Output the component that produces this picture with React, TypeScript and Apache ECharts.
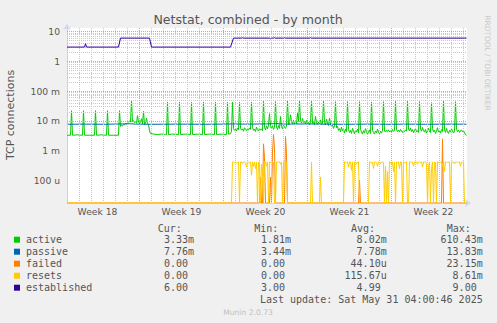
import React, { useEffect, useRef } from "react";
import * as echarts from "echarts";

// ---------- texts ----------
const TITLE = "Netstat, combined - by month";
const Y_NAME = "TCP connections";
const SIDE_TEXT = "RRDTOOL / TOBI OETIKER";
const LAST_UPDATE = "Last update: Sat May 31 04:00:46 2025";
const VERSION = "Munin 2.0.73";

// ---------- axes ----------
// x is measured in hours since Mon 28 Apr 2025 00:00 (start of week 18)
const xMinHour = 23;
const xMaxHour = 823;
const weekLabels = ["Week 18", "Week 19", "Week 20", "Week 21", "Week 22"];
const weekLabelHours = [84, 252, 420, 588, 756];
const weekLineHours = [168, 336, 504, 672];

const yMin = 1.757e-5;
const yMax = 13.1;
const yTickValues = [1e-4, 1e-3, 1e-2, 1e-1, 1, 10];
const yTickLabels = ["100 u", "1 m", "10 m", "100 m", "1", "10"];

// ---------- legend / stats ----------
const seriesNames = ["active", "passive", "failed", "resets", "established"];
const seriesColors = ["#00CC00", "#0066B3", "#FF8000", "#FFCC00", "#330099"];
const curValues = ["3.33m", "7.76m", "0.00", "0.00", "6.00"];
const minValues = ["1.81m", "3.44m", "0.00", "0.00", "3.00"];
const avgValues = ["8.02m", "7.78m", "44.10u", "115.67u", "4.99"];
const maxValues = ["610.43m", "13.83m", "23.15m", "8.61m", "9.00"];
const statHeaders = ["Cur:", "Min:", "Avg:", "Max:"];

// ---------- series data: [hour, value in milli-connections] ----------
const activeMilli: [number, number][] = [
  [23, 3.3], [30, 3.3], [32, 22], [34, 3.3], [44, 3.4], [54, 3.3], [56, 22], [58, 3.3], [68, 3.3],
  [78, 3.3], [80, 22], [82, 3.3], [92, 3.4], [102, 3.3], [104, 22], [106, 3.3], [116, 3.3], [126, 3.3],
  [128, 22], [130, 6.5], [132, 7.2], [134, 6.8], [136, 7.6], [138, 7.3], [140, 8.2], [142, 7.8], [144, 8.6],
  [146, 9.3], [148, 10], [150, 9.1], [152, 49], [154, 9.5], [156, 10.2], [158, 8.8], [160, 9.6], [162, 8.4],
  [164, 15], [166, 9.2], [168, 8.1], [170, 9.4], [172, 11.8], [174, 8.0], [176, 21], [178, 7.4], [180, 8.6],
  [182, 12.4], [184, 8.3], [186, 7.6], [188, 4.6], [190, 3.8], [196, 3.6], [204, 3.5], [212, 3.6], [220, 3.5],
  [222, 3.5], [224, 43], [226, 3.5], [234, 3.6], [246, 3.5], [248, 43], [250, 3.5], [260, 3.6], [270, 3.5],
  [272, 42], [274, 3.5], [284, 3.6], [294, 3.5], [296, 43], [298, 3.5], [308, 3.6], [318, 3.5], [320, 43],
  [322, 3.5], [332, 3.6], [342, 3.5], [344, 42], [346, 3.6], [350, 3.7], [352, 4.4], [354, 42], [356, 5.6],
  [358, 4.8], [360, 5.3], [362, 4.6], [364, 5.8], [366, 5.0], [368, 42], [370, 5.7], [372, 4.9], [374, 5.4],
  [376, 4.5], [378, 5.9], [380, 5.2], [382, 4.7], [384, 5.5], [386, 4.9], [388, 5.8], [390, 5.2], [392, 43],
  [394, 6.0], [396, 4.8], [398, 5.3], [400, 4.4], [402, 6.2], [404, 5.1], [406, 4.6], [408, 5.7], [410, 4.9],
  [412, 5.4], [414, 4.7], [416, 45], [418, 6.1], [420, 5.0], [422, 6.8], [424, 5.4], [426, 7.2], [428, 17.5],
  [430, 6.4], [432, 5.5], [434, 6.9], [436, 5.2], [438, 6.0], [440, 44], [442, 6.3], [444, 5.1], [446, 7.0],
  [448, 5.6], [450, 14], [452, 6.5], [454, 5.4], [456, 7.4], [458, 6.1], [460, 5.6], [462, 6.7], [464, 46],
  [466, 7.4], [468, 8.8], [470, 16], [472, 9.4], [474, 8.1], [476, 10.5], [478, 7.8], [480, 9.1], [482, 8.0],
  [484, 18], [486, 9.6], [488, 47], [490, 10.1], [492, 8.5], [494, 12], [496, 8.9], [498, 9.6], [500, 7.9],
  [502, 10.4], [504, 8.2], [506, 9.0], [508, 7.6], [510, 8.7], [512, 45], [514, 8.3], [516, 9.5], [518, 7.4],
  [520, 14], [522, 8.6], [524, 7.7], [526, 9.2], [528, 8.0], [530, 10.8], [532, 7.5], [534, 8.4], [536, 46],
  [538, 8.8], [540, 7.3], [542, 11.5], [544, 8.5], [546, 7.0], [548, 12.4], [550, 7.8], [552, 6.5], [554, 7.2],
  [556, 5.6], [558, 6.8], [560, 44], [562, 5.9], [564, 6.6], [566, 4.8], [568, 5.5], [570, 4.3], [572, 6.2],
  [574, 4.6], [576, 5.1], [578, 3.9], [580, 5.4], [582, 4.4], [584, 44], [586, 5.2], [588, 4.1], [590, 4.8],
  [592, 3.8], [594, 5.6], [596, 4.5], [598, 3.7], [600, 4.9], [602, 4.2], [604, 5.3], [606, 4.0], [608, 44],
  [610, 5.1], [612, 4.3], [614, 3.6], [616, 4.7], [618, 3.9], [620, 5.5], [622, 4.4], [624, 3.5], [626, 4.2],
  [628, 5.0], [630, 3.8], [632, 43], [634, 4.9], [636, 4.1], [638, 3.6], [640, 4.6], [642, 4.0], [644, 5.3],
  [646, 4.2], [648, 3.7], [650, 4.5], [652, 3.9], [654, 4.8], [656, 44], [658, 4.6], [660, 4.2], [662, 4.9],
  [664, 4.4], [666, 5.0], [668, 4.3], [670, 4.7], [672, 4.2], [674, 5.1], [676, 4.5], [678, 4.8], [680, 45],
  [682, 5.0], [684, 4.4], [686, 4.9], [688, 4.3], [690, 5.2], [692, 4.6], [694, 4.1], [696, 4.8], [698, 4.4],
  [700, 5.0], [702, 4.5], [704, 45], [706, 5.3], [708, 4.6], [710, 5.8], [712, 4.4], [714, 5.1], [716, 4.0],
  [718, 4.9], [720, 5.6], [722, 4.3], [724, 4.7], [726, 4.1], [728, 44], [730, 5.4], [732, 4.5], [734, 6.0],
  [736, 4.8], [738, 4.2], [740, 5.2], [742, 3.9], [744, 4.6], [746, 5.7], [748, 4.4], [750, 4.0], [752, 41],
  [754, 5.5], [756, 4.3], [758, 4.9], [760, 3.8], [762, 4.5], [764, 5.9], [766, 4.2], [768, 4.7], [770, 3.9],
  [772, 5.1], [774, 4.4], [776, 46], [778, 5.0], [780, 4.1], [782, 5.6], [784, 4.3], [786, 3.8], [788, 4.8],
  [790, 4.2], [792, 5.4], [794, 4.5], [796, 3.9], [798, 4.6], [800, 44], [802, 5.2], [804, 4.4], [806, 4.9],
  [808, 4.1], [810, 4.6], [812, 5.0], [814, 4.3], [816, 4.7], [818, 4.0], [820, 3.4], [822, 3.3],
];

const passiveMilli: [number, number][] = [
  [23, 7.7], [60, 7.8], [100, 7.7], [130, 7.9], [150, 8.0], [160, 7.8], [190, 7.7], [250, 7.8], [300, 7.7],
  [354, 7.9], [380, 7.8], [420, 7.9], [440, 8.1], [460, 7.8], [500, 7.9], [540, 7.8], [580, 7.7], [620, 7.8],
  [660, 7.7], [700, 7.8], [740, 7.7], [780, 7.8], [822, 7.76],
];

const failedMilli: [number, number][] = [
  [23, 0], [408, 0], [410, 0.13], [412, 0], [414, 0], [416, 1.7], [418, 0.6], [420, 0], [428, 0], [430, 0.13],
  [432, 0], [434, 0.9], [436, 3.5], [438, 1.2], [440, 0], [458, 0], [460, 3.0], [462, 0.8], [464, 0],
  [606, 0], [608, 0.1], [610, 0], [772, 0], [774, 2.5], [776, 0], [822, 0],
];

const resetsMilli: [number, number][] = [
  [23, 0], [352, 0], [354, 0.42], [356, 0.42], [358, 0.40], [360, 0.42], [362, 0.38], [364, 0.42], [366, 0.41],
  [368, 0], [370, 0.42], [372, 0.42], [374, 0.36], [376, 0.42], [378, 0.42], [380, 0.40], [382, 0.28], [384, 0.42],
  [386, 0.42], [388, 0.39], [390, 0.42], [392, 0.15], [394, 0.42], [396, 0.30], [398, 0.42], [400, 0.25],
  [402, 0.42], [404, 0], [406, 0.40], [408, 0.42], [410, 0], [412, 0.35], [414, 0.20], [416, 0], [418, 0.42],
  [420, 0.42], [422, 0.30], [424, 0.42], [426, 0], [428, 0.42], [430, 0.42], [432, 0.38], [434, 0.42], [436, 0.40],
  [438, 0], [440, 0], [442, 0.42], [444, 0.40], [446, 0.42], [448, 0.42], [450, 0.35], [452, 0.42], [454, 0],
  [456, 0.42], [458, 0.42], [460, 0.40], [462, 0.42], [464, 0], [510, 0], [512, 0.42], [514, 0], [528, 0],
  [530, 0.13], [532, 0], [576, 0], [578, 0.42], [580, 0.42], [582, 0.40], [584, 0.42], [586, 0.28], [588, 0.42],
  [590, 0.42], [592, 0.22], [594, 0.42], [596, 0], [598, 0.42], [600, 0.42], [602, 0.35], [604, 0.42], [606, 0.42],
  [608, 0], [626, 0], [628, 0.42], [630, 0.42], [632, 0.38], [634, 0.42], [636, 0.25], [638, 0.42], [640, 0.42],
  [642, 0.40], [644, 0.30], [646, 0.42], [648, 0.42], [650, 0.36], [652, 0.42], [654, 0.42], [656, 0.40], [658, 0],
  [660, 0.30], [662, 0], [664, 0.20], [666, 0], [668, 0.42], [670, 0.42], [672, 0.35], [674, 0.42], [676, 0.20],
  [678, 0.42], [680, 0], [682, 0.42], [684, 0.40], [686, 0.42], [688, 0.25], [690, 0.42], [692, 0.42], [694, 0],
  [696, 0.42], [698, 0.38], [700, 0.42], [702, 0.42], [704, 0], [706, 0], [708, 0.42], [710, 0.42], [712, 0.40],
  [714, 0.42], [716, 0.30], [718, 0.42], [720, 0.42], [722, 0.42], [724, 0.35], [726, 0.42], [728, 0.42],
  [730, 0.40], [732, 0.42], [734, 0.28], [736, 0.42], [738, 0.42], [740, 0.42], [742, 0.38], [744, 0], [746, 0.30],
  [748, 0.42], [750, 0], [752, 0.25], [754, 0.42], [756, 0], [758, 0.42], [760, 0.40], [762, 0], [764, 0.42],
  [766, 0.42], [768, 0.38], [770, 0.42], [772, 0.42], [774, 0.30], [776, 0.42], [778, 0.20], [780, 0.42],
  [782, 0.42], [784, 0.40], [786, 0.42], [788, 0.42], [790, 0], [792, 0.42], [794, 0.42], [796, 0.42], [798, 0.36],
  [800, 0.42], [802, 0.42], [804, 0.40], [806, 0.42], [808, 0.42], [810, 0.30], [812, 0.42], [814, 0.42],
  [816, 0.42], [818, 0], [822, 0],
];

// established is in whole connections
const establishedVals: [number, number][] = [
  [23, 3], [58, 3], [60, 3.9], [62, 3], [126, 3], [130, 6], [188, 6], [192, 3], [350, 3], [356, 6], [372, 6],
  [374, 6.2], [376, 6], [428, 6], [430, 5.7], [432, 6], [436, 6], [438, 6.2], [440, 6], [456, 6], [458, 6.2],
  [460, 6], [508, 6], [510, 6.2], [512, 6], [822, 6],
];

// ---------- helpers ----------
const toPoints = (arr: [number, number][], scale: number) =>
  arr.map(([h, v]) => [h, v <= 0 ? yMin : v * scale]);

const FONT_SANS = "DejaVu Sans";
const FONT_MONO = "DejaVu Sans Mono";
const TEXT = "#555555";

function buildOption() {
  const minorStyle = { color: "#c8c8c8", type: [1, 1], width: 1 };
  const majorStyle = { color: "#e39a9a", type: [1, 1], width: 1 };
  const gridLines: any[] = [];
  for (let e = -5; e <= 1; e++) {
    for (let k = 2; k <= 9; k++) {
      const v = k * Math.pow(10, e);
      if (v > yMin && v < yMax) gridLines.push({ yAxis: v, lineStyle: { ...minorStyle } });
    }
  }
  for (let h = 24; h < xMaxHour; h += 24) {
    if (h % 168 !== 0) gridLines.push({ xAxis: h, lineStyle: { ...minorStyle } });
  }
  yTickValues.forEach((v) => gridLines.push({ yAxis: v, lineStyle: { ...majorStyle } }));
  weekLineHours.forEach((h) => gridLines.push({ xAxis: h, lineStyle: { ...majorStyle } }));

  const seriesData = [
    toPoints(activeMilli, 1e-3),
    toPoints(passiveMilli, 1e-3),
    toPoints(failedMilli, 1e-3),
    toPoints(resetsMilli, 1e-3),
    toPoints(establishedVals, 1),
  ];

  const colRight = [194, 291, 386.7, 482.7];
  const headerLeft = [157.7, 254.3, 351, 446.7];
  const charW = 6.02;
  const rowY = [239.7, 251.7, 263.7, 275.7, 287.7];
  const cols = [curValues, minValues, avgValues, maxValues];

  const graphic: any[] = [
    {
      type: "text", x: 248, y: 19.3,
      style: { text: TITLE, fill: TEXT, fontFamily: FONT_SANS, fontSize: 12.6, align: "center", verticalAlign: "middle" },
    },
    {
      type: "text", x: 10.5, y: 115, rotation: Math.PI / 2,
      style: { text: Y_NAME, fill: TEXT, fontFamily: FONT_SANS, fontSize: 11, align: "center", verticalAlign: "middle" },
    },
    {
      type: "text", x: 487, y: 63, rotation: -Math.PI / 2,
      style: { text: SIDE_TEXT, fill: "#c8c8c8", fontFamily: FONT_SANS, fontSize: 7.4, align: "center", verticalAlign: "middle" },
    },
    {
      type: "text", x: 482.7, y: 299.3,
      style: { text: LAST_UPDATE, fill: TEXT, fontFamily: FONT_MONO, fontSize: 10, align: "right", verticalAlign: "middle" },
    },
    {
      type: "text", x: 248, y: 312,
      style: { text: VERSION, fill: "#c0c0c0", fontFamily: FONT_SANS, fontSize: 7.6, align: "center", verticalAlign: "middle" },
    },
  ];
  statHeaders.forEach((t, i) =>
    graphic.push({
      type: "text", x: headerLeft[i], y: 228.3,
      style: { text: t, fill: TEXT, fontFamily: FONT_MONO, fontSize: 10, align: "left", verticalAlign: "middle" },
    })
  );
  seriesNames.forEach((name, r) => {
    graphic.push({
      type: "rect", shape: { x: 14, y: rowY[r] - 3, width: 6, height: 6 },
      style: { fill: seriesColors[r] },
    });
    graphic.push({
      type: "text", x: 26, y: rowY[r],
      style: { text: name, fill: TEXT, fontFamily: FONT_MONO, fontSize: 10, align: "left", verticalAlign: "middle" },
    });
    cols.forEach((col, c) => {
      const s = col[r];
      const hasUnit = /[a-zA-Z]$/.test(s);
      graphic.push({
        type: "text", x: colRight[c] - (hasUnit ? 0 : charW), y: rowY[r],
        style: { text: s, fill: TEXT, fontFamily: FONT_MONO, fontSize: 10, align: "right", verticalAlign: "middle" },
      });
    });
  });

  const axisLineStyle = { color: "#CFD6F8", width: 1 };

  return {
    animation: false,
    backgroundColor: "#F0F0F0",
    grid: { left: 67, right: 30, top: 28, bottom: 120, show: true, backgroundColor: "#FFFFFF", borderWidth: 0 },
    xAxis: {
      type: "value",
      min: xMinHour,
      max: xMaxHour,
      axisLine: {
        show: true, onZero: false, lineStyle: axisLineStyle,
        symbol: ["none", "arrow"], symbolSize: [6, 6], symbolOffset: [0, 4],
      },
      axisTick: { show: false },
      splitLine: { show: false },
      axisLabel: {
        customValues: weekLabelHours,
        formatter: (v: number) => {
          const i = weekLabelHours.findIndex((h) => Math.abs(h - v) < 0.5);
          return i >= 0 ? weekLabels[i] : "";
        },
        color: TEXT, fontFamily: FONT_SANS, fontSize: 9.2, margin: 4,
      },
    },
    yAxis: {
      type: "log",
      logBase: 10,
      min: yMin,
      max: yMax,
      axisLine: {
        show: true, onZero: false, lineStyle: axisLineStyle,
        symbol: ["none", "arrow"], symbolSize: [6, 6], symbolOffset: [0, 4],
      },
      axisTick: { show: false },
      splitLine: { show: false },
      axisLabel: {
        formatter: (v: number) => {
          const i = yTickValues.findIndex((t) => Math.abs(Math.log10(v) - Math.log10(t)) < 1e-6);
          return i >= 0 ? yTickLabels[i] : "";
        },
        color: TEXT, fontFamily: FONT_SANS, fontSize: 9.2, margin: 7,
      },
    },
    series: [
      {
        type: "line", data: [], z: 1, silent: true,
        markLine: { silent: true, symbol: ["none", "none"], label: { show: false }, animation: false, data: gridLines },
      },
      ...seriesNames.map((name, i) => ({
        name,
        type: "line",
        data: seriesData[i],
        showSymbol: false,
        symbol: "none",
        z: 2 + i,
        lineStyle: { color: seriesColors[i], width: 1 },
        itemStyle: { color: seriesColors[i] },
        silent: true,
      })),
    ],
    graphic,
  };
}

export default function App() {
  const ref = useRef<HTMLDivElement>(null);
  useEffect(() => {
    if (!ref.current) return;
    const chart = echarts.init(ref.current, undefined, { renderer: "svg" });
    chart.setOption(buildOption() as any);
    return () => chart.dispose();
  }, []);
  return <div ref={ref} style={{ position: "fixed", left: 0, top: 0, width: 497, height: 323 }} />;
}
